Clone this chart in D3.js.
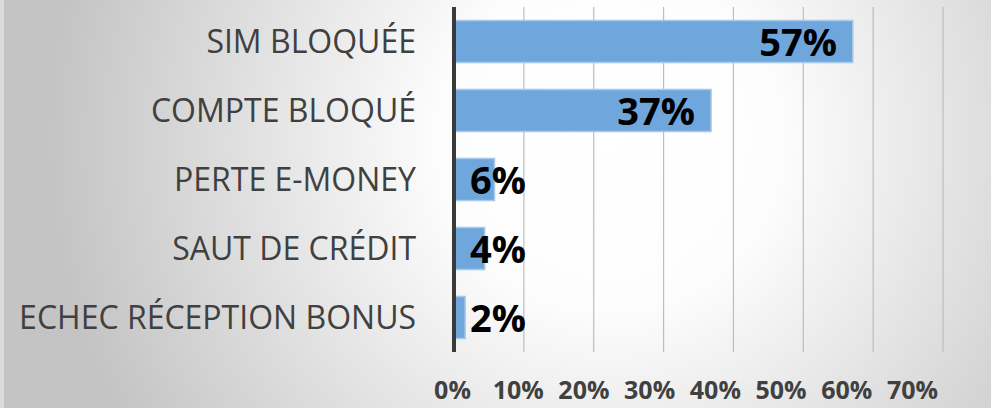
<!DOCTYPE html>
<html>
<head>
<meta charset="utf-8">
<script src="https://cdn.jsdelivr.net/npm/d3@7"></script>
<style>
  body { margin: 0; background: #fff; }
  svg { display: block; }
</style>
</head>
<body>
<div id="viz"></div>
<script>
var categories = ["SIM BLOQUÉE", "COMPTE BLOQUÉ", "PERTE E-MONEY", "SAUT DE CRÉDIT", "ECHEC RÉCEPTION BONUS"];
var values = [0.571, 0.368, 0.058, 0.044, 0.016];
var tickValues = [0, 0.1, 0.2, 0.3, 0.4, 0.5, 0.6, 0.7];

var width = 991;
var height = 408;

var margin = { top: 7, left: 454, right: 48, bottom: 56 };

var svg = d3.select("#viz")
  .append("svg")
  .attr("width", width)
  .attr("height", height);

// background gradient like the office chart area
var defs = svg.append("defs");
var grad = defs.append("radialGradient")
  .attr("id", "bg")
  .attr("gradientUnits", "userSpaceOnUse")
  .attr("cx", 610).attr("cy", 140).attr("r", 560);
grad.append("stop").attr("offset", "0%").attr("stop-color", "#ffffff");
grad.append("stop").attr("offset", "30%").attr("stop-color", "#fdfdfd");
grad.append("stop").attr("offset", "100%").attr("stop-color", "#c4c4c4");

svg.append("rect")
  .attr("width", width).attr("height", height)
  .attr("fill", "url(#bg)");
svg.append("rect")
  .attr("x", 0).attr("width", 4).attr("height", height)
  .attr("fill", "#dcdcdc");

var g = svg.append("g")
  .attr("transform", "translate(" + margin.left + "," + margin.top + ")");

var x_scale = d3.scaleLinear()
  .domain([0, 0.7])
  .range([0, 489]);

var y_scale = d3.scaleBand()
  .domain(categories)
  .range([0, 345])
  .paddingInner(0.39)
  .paddingOuter(0.195);

// gridlines
g.append("g")
  .attr("class", "grid")
  .selectAll("line")
  .data(tickValues.slice(1))
  .enter()
  .append("line")
  .attr("x1", function(d){ return x_scale(d); })
  .attr("x2", function(d){ return x_scale(d); })
  .attr("y1", 0)
  .attr("y2", 345)
  .attr("stroke", "#bdbdbd")
  .attr("stroke-width", 1.2);

// bars
g.selectAll(".bar")
  .data(values)
  .enter()
  .append("rect")
  .attr("class", "bar")
  .attr("x", 0)
  .attr("y", function(d, i){ return y_scale(categories[i]); })
  .attr("width", function(d){ return x_scale(d); })
  .attr("height", y_scale.bandwidth())
  .attr("fill", "#6fa7dc")
  .attr("stroke", "#a9cbeb")
  .attr("stroke-width", 1.5);

// value labels
var fmt = d3.format(".0%");
g.selectAll(".val")
  .data(values)
  .enter()
  .append("text")
  .attr("class", "val")
  .attr("x", function(d){ return x_scale(d) > 120 ? x_scale(d) - 16 : 16; })
  .attr("y", function(d, i){ return y_scale(categories[i]) + y_scale.bandwidth() / 2; })
  .attr("dy", "0.37em")
  .attr("text-anchor", function(d){ return x_scale(d) > 120 ? "end" : "start"; })
  .style("font-family", "'Open Sans', sans-serif")
  .style("font-weight", "bold")
  .style("font-size", "38px")
  .style("fill", "#000")
  .text(function(d){ return fmt(d); });

// category axis
var y_axis = d3.axisLeft(y_scale).tickSize(0).tickPadding(38);
var yg = g.append("g").attr("class", "y axis").call(y_axis);
yg.select(".domain").remove();
yg.selectAll("text")
  .attr("dy", "0.36em")
  .style("font-family", "'Open Sans', sans-serif")
  .style("font-size", "32px")
  .style("fill", "#404040");

// vertical axis line
g.append("line")
  .attr("x1", 0).attr("x2", 0)
  .attr("y1", 0).attr("y2", 345)
  .attr("stroke", "#3a3a3a")
  .attr("stroke-width", 4);

// percentage axis labels (spaced a bit tighter than the grid in the original)
var label_scale = d3.scaleLinear()
  .domain([0, 0.7])
  .range([-2, 458]);
var x_axis = d3.axisBottom(label_scale)
  .tickValues(tickValues)
  .tickFormat(fmt)
  .tickSize(0)
  .tickPadding(0);
var xg = g.append("g")
  .attr("class", "x axis")
  .attr("transform", "translate(0," + 392 + ")")
  .call(x_axis);
xg.select(".domain").remove();
xg.selectAll("text")
  .attr("y", 0)
  .attr("dy", 0)
  .style("font-family", "'Open Sans', sans-serif")
  .style("font-weight", "bold")
  .style("font-size", "25px")
  .style("fill", "#404040");
</script>
</body>
</html>
